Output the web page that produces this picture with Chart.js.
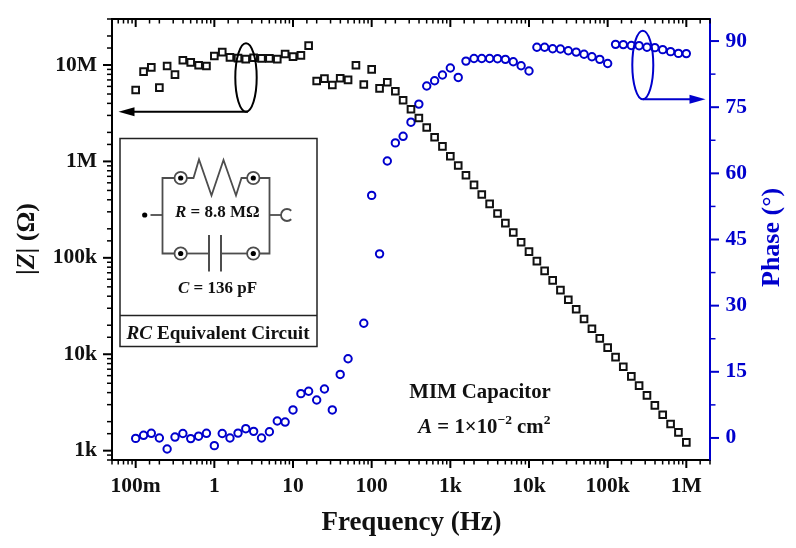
<!DOCTYPE html>
<html>
<head>
<meta charset="utf-8">
<title>MIM Capacitor</title>
<script src="https://cdn.jsdelivr.net/npm/chart.js@4/dist/chart.umd.min.js"></script>
<style>
  html, body { margin: 0; padding: 0; background: #fff; }
  canvas { display: block; }
</style>
</head>
<body>
<canvas id="chart" width="796" height="548"></canvas>
<script>
// measured frequency points, Hz
const freqHz = [
  0.1, 0.126, 0.158, 0.2, 0.251, 0.316, 0.398, 0.501, 0.631, 0.794,
  1, 1.26, 1.58, 2, 2.51, 3.16, 3.98, 5.01, 6.31, 7.94,
  10, 12.6, 15.8, 20, 25.1, 31.6, 39.8, 50.1, 63.1, 79.4,
  100, 126, 158, 200, 251, 316, 398, 501, 631, 794,
  1e3, 1.26e3, 1.58e3, 2e3, 2.51e3, 3.16e3, 3.98e3, 5.01e3, 6.31e3, 7.94e3,
  1e4, 1.26e4, 1.58e4, 2e4, 2.51e4, 3.16e4, 3.98e4, 5.01e4, 6.31e4, 7.94e4,
  1e5, 1.26e5, 1.58e5, 2e5, 2.51e5, 3.16e5, 3.98e5, 5.01e5, 6.31e5, 7.94e5,
  1e6
];
// |Z| in ohm
const impedance = [
  5.51e6, 8.54e6, 9.46e6, 5.83e6, 9.77e6, 7.96e6, 11.2e6, 10.66e6, 9.93e6, 9.77e6,
  12.4e6, 13.6e6, 12.0e6, 11.8e6, 11.5e6, 11.9e6, 11.7e6, 11.7e6, 11.5e6, 13.0e6,
  12.2e6, 12.6e6, 15.9e6, 6.82e6, 7.23e6, 6.21e6, 7.28e6, 7.0e6, 9.93e6, 6.27e6,
  9.02e6, 5.73e6, 6.62e6, 5.34e6, 4.31e6, 3.48e6, 2.82e6, 2.25e6, 1.78e6, 1.43e6,
  1.13e6, 906e3, 719e3, 571e3, 454e3, 363e3, 288e3, 229e3, 183e3, 145e3,
  116e3, 92.4e3, 73.3e3, 58.3e3, 46.3e3, 36.7e3, 29.3e3, 23.2e3, 18.4e3, 14.6e3,
  11.7e3, 9.35e3, 7.42e3, 5.9e3, 4.72e3, 3.75e3, 2.95e3, 2.36e3, 1.89e3, 1.55e3,
  1.22e3
];
// phase in degrees, one point is missing in the source at 63.1 Hz
const phase = [
  -0.1, 0.6, 1.05, 0, -2.5, 0.2, 1.0, -0.15, 0.4, 1.05,
  -1.75, 1.0, 0, 1.1, 2.1, 1.5, 0, 1.4, 3.85, 3.6,
  6.35, 10.05, 10.6, 8.6, 11.1, 6.35, 14.4, 17.95, null, 26.0,
  55.0, 41.75, 62.8, 66.9, 68.4, 71.6, 75.7, 79.8, 81.0, 82.3,
  83.9, 81.75, 85.45, 86.05, 86.05, 86.05, 86.0, 85.85, 85.3, 84.4,
  83.2, 88.6, 88.6, 88.25, 88.2, 87.8, 87.5, 87.0, 86.45, 85.85,
  84.9, 89.25, 89.2, 89.0, 88.95, 88.6, 88.5, 88.05, 87.6, 87.2,
  87.15
];

const xTickValues = [0.1, 1, 10, 100, 1e3, 1e4, 1e5, 1e6];
const xTickLabels = ['100m', '1', '10', '100', '1k', '10k', '100k', '1M'];
const zTickValues = [1e3, 1e4, 1e5, 1e6, 1e7];
const zTickLabels = ['1k', '10k', '100k', '1M', '10M'];
const phaseTicks = [0, 7.5, 15, 22.5, 30, 37.5, 45, 52.5, 60, 67.5, 75, 82.5, 90];

const BLACK = '#000';
const BLUE = '#0000cd';
const GRAY = '#4d4d4d';
const SERIF = '"Liberation Serif", serif';

// returns the label of a decade tick, '' for the minor ones
const labelFor = (values, labels) => (val) => {
  const i = values.findIndex((v) => Math.abs(Math.log10(v) - Math.log10(val)) < 1e-6);
  return i >= 0 ? labels[i] : '';
};
const isDecade = (val) => Math.abs(Math.log10(val) - Math.round(Math.log10(val))) < 1e-6;

// pin an axis to a fixed thickness so the plot area stays where it should
const fixedAxis = (prop, size) => (s) => {
  s[prop] = size;
  s.paddingTop = s.paddingBottom = s.paddingLeft = s.paddingRight = 0;
};

// one line of text in mixed styles, runs are [text, font, raise]
function drawRuns(ctx, x, y, runs) {
  ctx.textAlign = 'left';
  ctx.textBaseline = 'alphabetic';
  for (const [text, font, raise] of runs) {
    ctx.font = font;
    ctx.fillText(text, x, y - (raise || 0));
    x += ctx.measureText(text).width;
  }
}

function line(ctx, points) {
  ctx.beginPath();
  points.forEach(([x, y], i) => (i ? ctx.lineTo(x, y) : ctx.moveTo(x, y)));
  ctx.stroke();
}

function drawNode(ctx, x, y) {
  ctx.strokeStyle = GRAY;
  ctx.lineWidth = 1.8;
  ctx.fillStyle = '#fff';
  ctx.beginPath();
  ctx.arc(x, y, 6.2, 0, Math.PI * 2);
  ctx.fill();
  ctx.stroke();
  ctx.fillStyle = '#000';
  ctx.beginPath();
  ctx.arc(x, y, 2.6, 0, Math.PI * 2);
  ctx.fill();
}

// ellipse round a group of points plus the arrow pointing at its axis
function drawCallout(ctx, color, cx, cy, rx, ry, fromX, tipX) {
  const arrowY = cy + ry;
  const dir = tipX > fromX ? 1 : -1;
  ctx.strokeStyle = color;
  ctx.fillStyle = color;
  ctx.lineWidth = 2;
  ctx.beginPath();
  ctx.ellipse(cx, cy, rx, ry, 0, 0, Math.PI * 2);
  ctx.stroke();
  line(ctx, [[fromX, arrowY], [tipX - dir * 10, arrowY]]);
  ctx.beginPath();
  ctx.moveTo(tipX, arrowY);
  ctx.lineTo(tipX - dir * 16, arrowY - 4.5);
  ctx.lineTo(tipX - dir * 16, arrowY + 4.5);
  ctx.closePath();
  ctx.fill();
}

function drawInset(ctx) {
  ctx.fillStyle = '#fff';
  ctx.fillRect(120, 138.5, 197, 208);
  ctx.strokeStyle = '#222';
  ctx.lineWidth = 1.5;
  ctx.strokeRect(120, 138.5, 197, 208);
  line(ctx, [[120, 315.5], [317, 315.5]]);

  ctx.strokeStyle = GRAY;
  ctx.lineWidth = 1.8;
  // outer loop of the circuit
  line(ctx, [[181, 178], [162.5, 178], [162.5, 253.5], [181, 253.5]]);
  line(ctx, [[253, 178], [269.5, 178], [269.5, 253.5], [253, 253.5]]);
  // resistor
  line(ctx, [[187, 178], [193.5, 178], [199, 159.5], [211.5, 195.5], [223.5, 160], [236, 195.5], [241.5, 178], [247, 178]]);
  // capacitor
  line(ctx, [[181, 253.5], [209, 253.5]]);
  line(ctx, [[221, 253.5], [253, 253.5]]);
  ctx.lineWidth = 2;
  line(ctx, [[209, 235], [209, 271.5]]);
  line(ctx, [[221, 235], [221, 271.5]]);
  // leads
  ctx.lineWidth = 1.8;
  line(ctx, [[150.5, 215], [162.5, 215]]);
  line(ctx, [[269.5, 215], [281, 215]]);
  ctx.beginPath();
  ctx.arc(287, 215, 6, Math.PI * 0.25, Math.PI * 1.75);
  ctx.stroke();
  ctx.fillStyle = '#000';
  ctx.beginPath();
  ctx.arc(144.7, 215, 2.6, 0, Math.PI * 2);
  ctx.fill();

  drawNode(ctx, 180.7, 178);
  drawNode(ctx, 253.3, 178);
  drawNode(ctx, 180.7, 253.5);
  drawNode(ctx, 253.3, 253.5);

  const bold = `bold 17px ${SERIF}`;
  const boldItalic = `italic bold 17px ${SERIF}`;
  ctx.fillStyle = '#111';
  drawRuns(ctx, 175, 217, [['R', boldItalic], [' = 8.8 MΩ', bold]]);
  drawRuns(ctx, 178, 293, [['C', boldItalic], [' = 136 pF', bold]]);
  drawRuns(ctx, 126.5, 338.5, [
    ['RC', `italic bold 19.2px ${SERIF}`],
    [' Equivalent Circuit', `bold 19.2px ${SERIF}`],
  ]);
}

// Chart.js has one tick length per axis, this one needs major and minor
const axisFurniture = {
  id: 'axisFurniture',
  afterDatasetsDraw(chart) {
    const { ctx, chartArea: area, scales } = chart;
    ctx.save();
    ctx.lineCap = 'butt';

    const tick = (color, isMajor, pts) => {
      ctx.strokeStyle = color;
      ctx.lineWidth = isMajor ? 2 : 1.5;
      line(ctx, pts);
    };
    for (const t of scales.x.ticks) {
      const p = scales.x.getPixelForValue(t.value);
      const major = isDecade(t.value);
      const len = major ? 8 : 4.5;
      tick(BLACK, major, [[p, area.bottom], [p, area.bottom + len]]);
      tick(BLACK, major, [[p, area.top], [p, area.top + len]]);
    }
    for (const t of scales.y.ticks) {
      const p = scales.y.getPixelForValue(t.value);
      const major = isDecade(t.value);
      tick(BLACK, major, [[area.left, p], [area.left - (major ? 9 : 5), p]]);
    }
    for (const t of scales.y1.ticks) {
      const p = scales.y1.getPixelForValue(t.value);
      const major = t.value % 15 === 0;
      tick(BLUE, major, [[area.right, p], [area.right + (major ? 9 : 5.5), p]]);
    }
    // top edge of the frame
    ctx.strokeStyle = BLACK;
    ctx.lineWidth = 2;
    line(ctx, [[area.left - 1, area.top], [area.right, area.top]]);

    drawCallout(ctx, BLACK, 246, 77.5, 10.7, 34.2, 248, 118.5);
    drawCallout(ctx, BLUE, 642.8, 65, 10.5, 34.2, 643, 705.5);
    drawInset(ctx);

    // annotations
    ctx.fillStyle = '#111';
    drawRuns(ctx, 409.3, 397.7, [['MIM Capacitor', `bold 20.8px ${SERIF}`]]);
    const b = `bold 20.8px ${SERIF}`;
    drawRuns(ctx, 418.3, 432.7, [
      ['A', `italic bold 20.8px ${SERIF}`],
      [' = 1×10', b],
      ['−2', `bold 13.5px ${SERIF}`, 9],
      [' cm', b],
      ['2', `bold 13.5px ${SERIF}`, 9],
    ]);

    // axis titles
    ctx.fillStyle = '#111';
    ctx.textAlign = 'center';
    ctx.textBaseline = 'alphabetic';
    ctx.font = `bold 27px ${SERIF}`;
    ctx.fillText('Frequency (Hz)', 411.5, 530);

    ctx.save();
    ctx.translate(34, 275);
    ctx.rotate(-Math.PI / 2);
    drawRuns(ctx, 0, 0, [
      ['|', `bold 26px ${SERIF}`],
      ['Z', `italic bold 26px ${SERIF}`],
      ['| (Ω)', `bold 26px ${SERIF}`],
    ]);
    ctx.restore();

    ctx.save();
    ctx.fillStyle = BLUE;
    ctx.translate(779, 287);
    ctx.rotate(-Math.PI / 2);
    drawRuns(ctx, 0, 0, [['Phase (°)', `bold 26px ${SERIF}`]]);
    ctx.restore();

    ctx.restore();
  },
};

const tickFont = { family: SERIF, size: 21.5, weight: 'bold' };

new Chart(document.getElementById('chart'), {
  type: 'scatter',
  data: {
    datasets: [
      {
        label: '|Z|',
        data: freqHz.map((f, i) => ({ x: f, y: impedance[i] })),
        yAxisID: 'y',
        pointStyle: 'rect',
        pointRadius: 4.7,
        pointBorderWidth: 2,
        pointBorderColor: '#111',
        pointBackgroundColor: 'transparent',
        showLine: false,
      },
      {
        label: 'Phase',
        data: freqHz.map((f, i) => ({ x: f, y: phase[i] })),
        yAxisID: 'y1',
        pointStyle: 'circle',
        pointRadius: 3.7,
        pointBorderWidth: 2,
        pointBorderColor: BLUE,
        pointBackgroundColor: 'transparent',
        showLine: false,
      },
    ],
  },
  options: {
    responsive: false,
    animation: false,
    layout: { autoPadding: false, padding: { top: 19 } },
    plugins: {
      legend: { display: false },
      tooltip: { enabled: false },
    },
    scales: {
      x: {
        type: 'logarithmic',
        min: 0.05,
        max: 2e6,
        afterFit: fixedAxis('height', 88),
        grid: { display: false, drawTicks: false },
        border: { color: BLACK, width: 2 },
        ticks: {
          autoSkip: false,
          maxRotation: 0,
          padding: 14,
          color: '#111',
          font: tickFont,
          callback: labelFor(xTickValues, xTickLabels),
        },
      },
      y: {
        type: 'logarithmic',
        position: 'left',
        min: 800,
        max: 3e7,
        afterFit: fixedAxis('width', 112),
        grid: { display: false, drawTicks: false },
        border: { color: BLACK, width: 2 },
        ticks: {
          autoSkip: false,
          padding: 15,
          color: '#111',
          font: tickFont,
          callback: labelFor(zTickValues, zTickLabels),
        },
      },
      y1: {
        type: 'linear',
        position: 'right',
        min: -5,
        max: 95,
        afterBuildTicks: (s) => { s.ticks = phaseTicks.map((v) => ({ value: v })); },
        afterFit: fixedAxis('width', 86),
        grid: { display: false, drawTicks: false },
        border: { color: BLUE, width: 2 },
        ticks: {
          autoSkip: false,
          padding: 15.5,
          color: BLUE,
          font: tickFont,
          callback: (val) => (val % 15 === 0 ? String(val) : ''),
        },
      },
    },
  },
  plugins: [axisFurniture],
});
</script>
</body>
</html>
